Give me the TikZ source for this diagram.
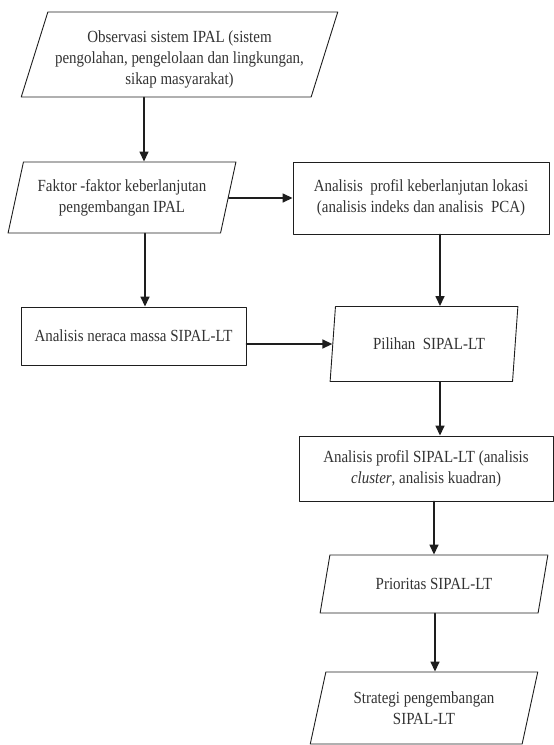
\documentclass[tikz,border=0pt]{standalone}
\usepackage{fontspec}
\setmainfont{Liberation Serif}[FakeStretch=0.88]
\usetikzlibrary{shapes.geometric,arrows.meta}
\definecolor{Tline}{RGB}{30,30,30}
\definecolor{Ttext}{RGB}{50,50,50}

\begin{document}
\begin{tikzpicture}[x=1pt,y=-1pt,line cap=round,line join=round,
  box/.style={draw=Tline,line width=0.9pt,inner sep=1pt,align=center,text=Ttext,font=\fontsize{17}{21}\selectfont},
  para/.style={box,trapezium,trapezium left angle=#1,trapezium right angle={180-#1},trapezium stretches=true},
  para/.default=70,
  arr/.style={draw=Tline,line width=1.5pt,-{Triangle[length=10pt,width=9pt]}}]
\path[use as bounding box] (0,0) rectangle (554,745);
% boxes
\node[para=70,minimum width=317,minimum height=85] (obs) at (179.5,54.5) {\rule{0pt}{22pt}Observasi sistem IPAL (sistem\\pengolahan, pengelolaan dan lingkungan,\\sikap masyarakat)};
\node[para=71,minimum width=228,minimum height=71] (faktor) at (122,197.5) {Faktor -faktor keberlanjutan\\pengembangan IPAL};
\node[box,minimum width=256,minimum height=72] (lokasi) at (421,198) {Analisis\ \ profil keberlanjutan lokasi\\(analisis indeks dan analisis\ \ PCA)};
\node[box,minimum width=225,minimum height=58] (neraca) at (133.5,336) {Analisis neraca massa SIPAL-LT};
\node[para=75,minimum width=188,minimum height=75] (pilihan) at (424,344) {\hspace*{10pt}Pilihan\ \ SIPAL-LT};
\node[box,minimum width=254,minimum height=65] (profil) at (426,468.5) {Analisis profil SIPAL-LT (analisis\\\textit{cluster}, analisis kuadran)};
\node[para=67.5,minimum width=228,minimum height=58] (prioritas) at (434,584) {Prioritas SIPAL-LT};
\node[para=72,minimum width=228,minimum height=72] (strategi) at (424,708) {Strategi pengembangan\\SIPAL-LT};
% arrows
\draw[arr] (obs.south -| 144,0) -- (faktor.north -| 144,0);
\draw[arr] (faktor.right side |- lokasi.west) -- (lokasi.west);
\draw[arr] (faktor.south -| 145,0) -- (neraca.north -| 145,0);
\draw[arr] (lokasi.south -| 440,0) -- (pilihan.north -| 440,0);
\draw[arr] (neraca.east |- pilihan.left side) -- (pilihan.left side);
\draw[arr] (pilihan.south -| 440,0) -- (profil.north -| 440,0);
\draw[arr] (profil.south -| 434,0) -- (prioritas.north -| 434,0);
\draw[arr] (prioritas.south -| 435,0) -- (strategi.north -| 435,0);
\end{tikzpicture}
\end{document}
